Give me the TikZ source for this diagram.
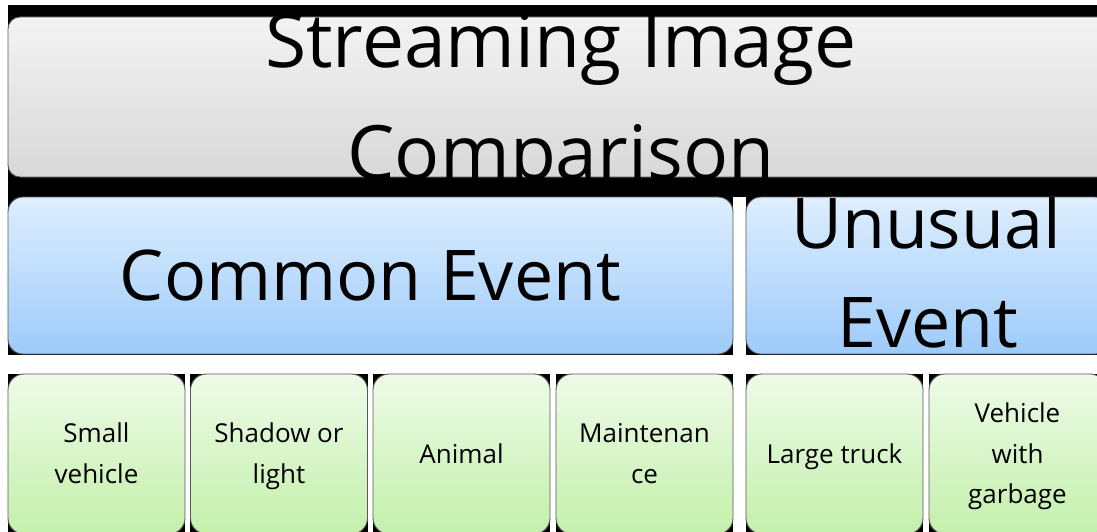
\documentclass[tikz,border=0pt]{standalone}
\usepackage{fontspec}
\setmainfont{Open Sans}
\definecolor{graytop}{HTML}{F3F3F3}
\definecolor{graybot}{HTML}{D8D8D8}
\definecolor{bluetop}{HTML}{DEEEFE}
\definecolor{bluebot}{HTML}{9DCBFA}
\definecolor{greentop}{HTML}{EEFBE8}
\definecolor{greenbot}{HTML}{C3F0AB}
\tikzset{
  boxbase/.style={rectangle, inner sep=0pt, draw=black!65, line width=0.9pt},
  graybox/.style={boxbase, rounded corners=12pt, top color=graytop, bottom color=graybot},
  bluebox/.style={boxbase, rounded corners=15pt, top color=bluetop, bottom color=bluebot,
    minimum height=157pt},
  greenbox/.style={boxbase, rounded corners=16pt, top color=greentop, bottom color=greenbot,
    minimum width=177pt, minimum height=160pt},
  hugetxt/.style={inner sep=0pt, anchor=base, font=\fontsize{75}{90}\selectfont},
  bigtxt/.style={inner sep=0pt, anchor=base, font=\fontsize{70}{84}\selectfont},
  smalltxt/.style={inner sep=0pt, anchor=base, font=\fontsize{26}{31}\selectfont},
  backing/.style={fill=black}
}
\begin{document}
\begin{tikzpicture}[x=1pt,y=-1pt]
\useasboundingbox (0,0) rectangle (1097,532);
\clip (0,0) rectangle (1097,532);
\fill[white] (0,0) rectangle (1097,532);
% black backings
\fill[backing] (8,5) rectangle (1097,197);
\fill[backing] (8,197) rectangle (733,355);
\fill[backing] (746,197) rectangle (1097,355);
\foreach \a/\b in {8/185,190/368,373/550,556/733,746/923,929/1097}
  \fill[backing] (\a,374) rectangle (\b,532);
% top box
\node[graybox, minimum width=1112pt, minimum height=160pt] (top) at (564,97) {};
\begin{scope}
  \clip (8,15) rectangle (1097,177);
  \node[hugetxt] (t1) at (561,68) {Streaming Image};
  \node[hugetxt] (t2) at (561,179) {Comparison};
\end{scope}
% blue boxes
\node[bluebox, minimum width=725pt] (common) at (370.5,275.5) {};
\node[bigtxt] (ce) at (370.5,300) {Common Event};
\node[bluebox, minimum width=364pt] (unusual) at (928,275.5) {};
\begin{scope}
  \clip (746,197) rectangle (1097,354);
  \node[bigtxt] (u1) at (926,248) {Unusual};
  \node[bigtxt] (u2) at (928,347) {Event};
\end{scope}
% green boxes
\node[greenbox] (g1) at (96.5,454) {};
\node[greenbox] (g2) at (279,454) {};
\node[greenbox] (g3) at (461.5,454) {};
\node[greenbox] (g4) at (644.5,454) {};
\node[greenbox] (g5) at (834.5,454) {};
\node[greenbox] (g6) at (1017.5,454) {};
\node[smalltxt] (g1a) at (96.5,442) {Small};
\node[smalltxt] (g1b) at (96.5,483) {vehicle};
\node[smalltxt] (g2a) at (279,442) {Shadow or};
\node[smalltxt] (g2b) at (279,483) {light};
\node[smalltxt] (g3a) at (461.5,463) {Animal};
\node[smalltxt] (g4a) at (644.5,442) {Maintenan};
\node[smalltxt] (g4b) at (644.5,483) {ce};
\node[smalltxt] (g5a) at (834.5,463) {Large truck};
\node[smalltxt] (g6a) at (1017.5,422) {Vehicle};
\node[smalltxt] (g6b) at (1017.5,463) {with};
\node[smalltxt] (g6c) at (1017.5,503) {garbage};
\end{tikzpicture}
\end{document}
